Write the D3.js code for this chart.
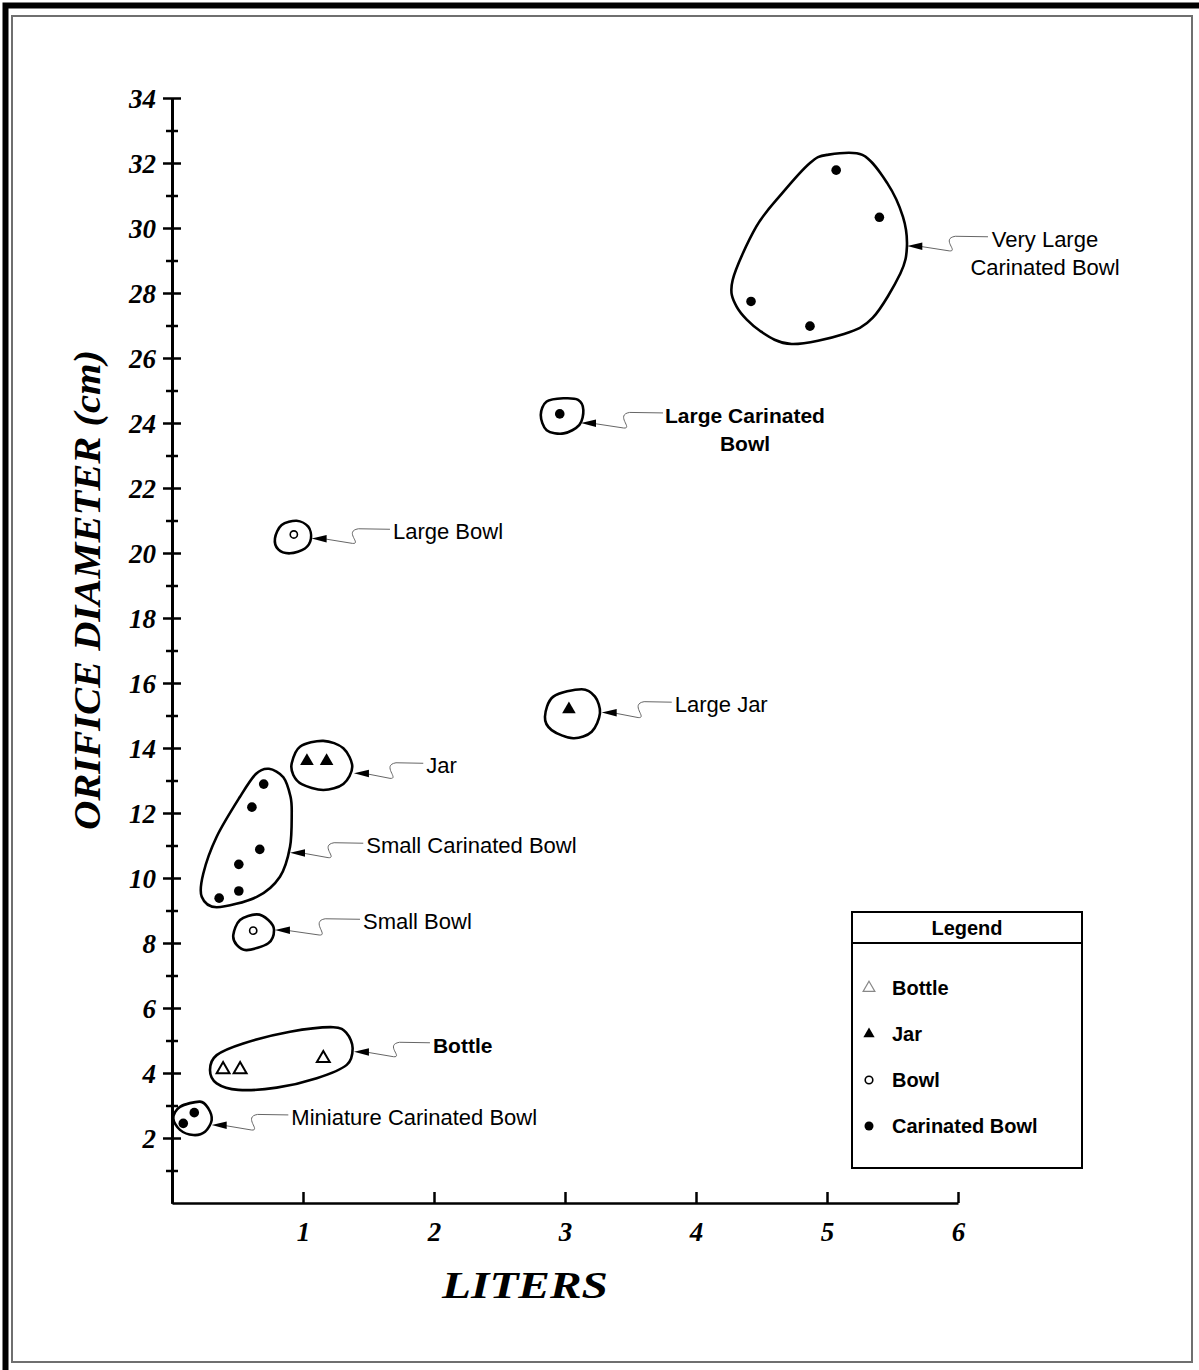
<!DOCTYPE html>
<html>
<head>
<meta charset="utf-8">
<script src="https://cdn.jsdelivr.net/npm/d3@7"></script>
<style>
  body { margin: 0; background: #fff; }
  svg { display: block; }
</style>
</head>
<body>
<svg id="chart" width="1199" height="1370"></svg>
<script>
// values (liters, orifice diameter cm)
const bottleL = [0.39, 0.52, 1.155];
const bottleD = [4.11, 4.11, 4.45];
const jarL = [1.03, 1.18, 3.03];
const jarD = [13.6, 13.6, 15.19];
const bowlL = [0.62, 0.93];
const bowlD = [8.38, 20.57];
const carL = [0.086, 0.17, 0.36, 0.51, 0.51, 0.67, 0.61, 0.70, 2.96, 4.42, 4.87, 5.07, 5.40];
const carD = [2.45, 2.78, 9.38, 9.6, 10.42, 10.88, 12.18, 12.89, 24.28, 27.74, 26.98, 31.78, 30.33];

const xTicks = [1, 2, 3, 4, 5, 6];
const yMajor = d3.range(2, 35, 2);
const yMinor = d3.range(1, 34, 2);

const legendNames = ["Bottle", "Jar", "Bowl", "Carinated Bowl"];

// hand drawn group outlines, in data units
const groups = [
  {name: "veryLarge", pts: [[5.00,32.25],[5.27,32.25],[5.46,31.38],[5.58,30.34],[5.61,29.42],[5.56,28.6],[5.35,27.24],[5.13,26.74],[4.73,26.43],[4.49,26.83],[4.31,27.58],[4.28,28.4],[4.46,30.04],[4.66,31.08],[4.87,32.0]]},
  {name: "largeCar", pts: [[2.815,24.25],[2.86,24.66],[2.99,24.76],[3.10,24.71],[3.14,24.40],[3.11,23.94],[2.99,23.68],[2.86,23.78]]},
  {name: "largeBowl", pts: [[0.786,20.45],[0.837,20.86],[0.952,20.99],[1.040,20.81],[1.061,20.45],[1.015,20.14],[0.901,19.99],[0.811,20.11]]},
  {name: "largeJar", pts: [[2.847,14.96],[2.911,15.58],[3.127,15.81],[3.229,15.58],[3.267,15.07],[3.204,14.50],[3.063,14.30],[2.898,14.55]]},
  {name: "jar", pts: [[0.914,13.53],[0.977,14.04],[1.155,14.22],[1.308,13.99],[1.376,13.42],[1.308,12.89],[1.155,12.71],[0.990,12.89],[0.926,13.17]]},
  {name: "smallCar", pts: [[0.74,13.36],[0.85,13.1],[0.905,12.5],[0.914,11.99],[0.901,10.96],[0.824,10.04],[0.647,9.42],[0.341,9.10],[0.227,9.42],[0.239,10.14],[0.341,11.27],[0.519,12.50],[0.64,13.2]]},
  {name: "smallBowl", pts: [[0.468,8.25],[0.519,8.71],[0.647,8.88],[0.735,8.71],[0.779,8.40],[0.735,7.99],[0.570,7.78],[0.494,7.94]]},
  {name: "bottle", pts: [[0.290,4.09],[0.341,4.55],[0.544,4.91],[0.901,5.27],[1.231,5.41],[1.334,5.22],[1.379,4.76],[1.334,4.25],[1.105,3.84],[0.799,3.55],[0.506,3.48],[0.341,3.68]]},
  {name: "mini", pts: [[0.010,2.61],[0.061,2.96],[0.214,3.12],[0.277,2.91],[0.303,2.55],[0.252,2.19],[0.163,2.09],[0.061,2.25]]}
];

// leader callouts: tip on the outline, end of the leader, label lines
const notes = [
  {lines: ["Very Large", "Carinated Bowl"], tip: [5.613, 29.45], end: [6.229, 29.73], bold: false, center: 6.664},
  {lines: ["Large Carinated", "Bowl"], tip: [3.122, 24.0], end: [3.748, 24.31], bold: true, center: 4.374},
  {lines: ["Large Bowl"], tip: [1.066, 20.45], end: [1.664, 20.73], bold: false},
  {lines: ["Large Jar"], tip: [3.280, 15.09], end: [3.815, 15.41], bold: false},
  {lines: ["Jar"], tip: [1.389, 13.22], end: [1.918, 13.53], bold: false},
  {lines: ["Small Carinated Bowl"], tip: [0.901, 10.78], end: [1.460, 11.07], bold: false},
  {lines: ["Small Bowl"], tip: [0.786, 8.40], end: [1.435, 8.73], bold: false},
  {lines: ["Bottle"], tip: [1.389, 4.655], end: [1.969, 4.93], bold: true},
  {lines: ["Miniature Carinated Bowl"], tip: [0.303, 2.40], end: [0.888, 2.71], bold: false}
];

const svg = d3.select("#chart");
const serif = "'Liberation Serif', 'DejaVu Serif', serif";
const sans = "'Liberation Sans', Arial, sans-serif";

// frame
svg.append("path")
  .attr("d", "M5.5,1370 L5.5,5.5 L1199,5.5")
  .attr("fill", "none")
  .attr("stroke", "#000")
  .attr("stroke-width", 6);
svg.append("rect")
  .attr("x", 12).attr("y", 16)
  .attr("width", 1180).attr("height", 1346)
  .attr("fill", "none")
  .attr("stroke", "#6f6f6f")
  .attr("stroke-width", 2);

const x = d3.scaleLinear().domain([0, 6]).range([172, 958]);
const y = d3.scaleLinear().domain([0, 34]).range([1203, 98]);

// y axis: major ticks cross the line, minor ones are shorter
const yAxisL = svg.append("g").attr("transform", `translate(${x(0)},0)`)
  .call(d3.axisLeft(y).tickValues(yMajor).tickSizeInner(9).tickSizeOuter(0).tickPadding(7));
const yAxisR = svg.append("g").attr("transform", `translate(${x(0)},0)`)
  .call(d3.axisRight(y).tickValues(yMajor).tickSizeInner(9).tickSizeOuter(0).tickFormat(""));
const yMinL = svg.append("g").attr("transform", `translate(${x(0)},0)`)
  .call(d3.axisLeft(y).tickValues(yMinor).tickSizeInner(6).tickSizeOuter(0).tickFormat(""));
const yMinR = svg.append("g").attr("transform", `translate(${x(0)},0)`)
  .call(d3.axisRight(y).tickValues(yMinor).tickSizeInner(6).tickSizeOuter(0).tickFormat(""));

const xAxis = svg.append("g").attr("transform", `translate(0,${y(0)})`)
  .call(d3.axisBottom(x).tickValues(xTicks).tickFormat(d3.format("d"))
    .tickSizeInner(-11).tickSizeOuter(0).tickPadding(19));

[yAxisL, yAxisR, yMinL, yMinR, xAxis].forEach(g => {
  g.selectAll("path.domain").attr("stroke", "#000").attr("stroke-width", 2.5);
  g.selectAll(".tick line").attr("stroke", "#000").attr("stroke-width", 2.5);
  g.selectAll(".tick text")
    .attr("fill", "#000")
    .style("font-family", serif)
    .style("font-weight", "bold")
    .style("font-style", "italic")
    .style("font-size", "27px");
});
yAxisL.selectAll(".tick text").attr("dy", "0.36em");

// axis titles
svg.append("text")
  .attr("x", 525).attr("y", 1298)
  .attr("text-anchor", "middle")
  .attr("textLength", 166).attr("lengthAdjust", "spacingAndGlyphs")
  .style("font-family", serif).style("font-weight", "bold").style("font-style", "italic")
  .style("font-size", "38px")
  .text("LITERS");
svg.append("text")
  .attr("transform", "translate(100,590) rotate(-90)")
  .attr("text-anchor", "middle")
  .attr("textLength", 480).attr("lengthAdjust", "spacingAndGlyphs")
  .style("font-family", serif).style("font-weight", "bold").style("font-style", "italic")
  .style("font-size", "38px")
  .text("ORIFICE DIAMETER (cm)");

// outlines
const outline = d3.line()
  .x(d => x(d[0])).y(d => y(d[1]))
  .curve(d3.curveCardinalClosed.tension(0.05));
svg.append("g").selectAll("path")
  .data(groups)
  .enter()
  .append("path")
  .attr("class", d => d.name)
  .attr("d", d => outline(d.pts))
  .attr("fill", "none")
  .attr("stroke", "#000")
  .attr("stroke-width", 2.6);

// leaders and labels
const noteG = svg.append("g");
notes.forEach(n => {
  const tx = x(n.tip[0]), ty = y(n.tip[1]);
  const ex = x(n.end[0]), ey = y(n.end[1]);
  const L = ex - tx;
  const bx = tx + 0.52 * L, by = ty + 5;
  noteG.append("path")
    .attr("d", `M${tx + 13},${ty + 0.5} L${bx},${by} C${bx + 10},${by + 1} ${bx - 9},${ey + 2} ${bx + 6},${ey - 0.5} L${ex},${ey}`)
    .attr("fill", "none")
    .attr("stroke", "#666")
    .attr("stroke-width", 1);
  noteG.append("path")
    .attr("d", `M${tx},${ty} L${tx + 15},${ty - 3.5} L${tx + 15},${ty + 4} Z`)
    .attr("fill", "#000");
  const t = noteG.append("text")
    .attr("text-anchor", n.center ? "middle" : "start")
    .attr("fill", "#000")
    .style("font-family", sans)
    .style("font-weight", n.bold ? "bold" : "normal")
    .style("font-size", n.bold ? "21px" : "22px");
  n.lines.forEach((s, i) => {
    t.append("tspan")
      .attr("x", n.center ? x(n.center) : ex + 3)
      .attr("y", ey + 10 + i * 28)
      .text(s);
  });
});

// points
const tri = d3.symbol().type(d3.symbolTriangle);
const pts = svg.append("g");
pts.selectAll("path.bottle")
  .data(bottleL.map((v, i) => [v, bottleD[i]]))
  .enter().append("path")
  .attr("class", "bottle")
  .attr("transform", d => `translate(${x(d[0])},${y(d[1])})`)
  .attr("d", tri.size(72)())
  .attr("fill", "#fff").attr("stroke", "#000").attr("stroke-width", 2);
pts.selectAll("path.jar")
  .data(jarL.map((v, i) => [v, jarD[i]]))
  .enter().append("path")
  .attr("class", "jar")
  .attr("transform", d => `translate(${x(d[0])},${y(d[1])})`)
  .attr("d", tri.size(80)())
  .attr("fill", "#000");
pts.selectAll("circle.bowl")
  .data(bowlL.map((v, i) => [v, bowlD[i]]))
  .enter().append("circle")
  .attr("class", "bowl")
  .attr("cx", d => x(d[0])).attr("cy", d => y(d[1]))
  .attr("r", 3.6)
  .attr("fill", "#fff").attr("stroke", "#000").attr("stroke-width", 1.6);
pts.selectAll("circle.car")
  .data(carL.map((v, i) => [v, carD[i]]))
  .enter().append("circle")
  .attr("class", "car")
  .attr("cx", d => x(d[0])).attr("cy", d => y(d[1]))
  .attr("r", 4.8)
  .attr("fill", "#000");

// legend
const lg = svg.append("g").attr("transform", "translate(852,912)");
lg.append("rect")
  .attr("width", 230).attr("height", 256)
  .attr("fill", "#fff").attr("stroke", "#000").attr("stroke-width", 2);
lg.append("line")
  .attr("x1", 0).attr("x2", 230).attr("y1", 31).attr("y2", 31)
  .attr("stroke", "#000").attr("stroke-width", 2);
lg.append("text")
  .attr("x", 115).attr("y", 23)
  .attr("text-anchor", "middle")
  .style("font-family", sans).style("font-weight", "bold").style("font-size", "20px")
  .text("Legend");
const item = lg.selectAll("g.item")
  .data(legendNames)
  .enter().append("g")
  .attr("class", "item")
  .attr("transform", (d, i) => `translate(0,${76 + i * 46})`);
item.append("text")
  .attr("x", 40).attr("y", 7)
  .style("font-family", sans).style("font-weight", "bold").style("font-size", "20px")
  .text(d => d);
item.each(function(d, i) {
  const g = d3.select(this);
  if (i === 0) {
    g.append("path").attr("transform", "translate(17,0)")
      .attr("d", tri.size(60)())
      .attr("fill", "none").attr("stroke", "#888").attr("stroke-width", 1.2);
  } else if (i === 1) {
    g.append("path").attr("transform", "translate(17,0)")
      .attr("d", tri.size(55)())
      .attr("fill", "#000");
  } else if (i === 2) {
    g.append("circle").attr("cx", 17).attr("cy", 0).attr("r", 3.8)
      .attr("fill", "#fff").attr("stroke", "#000").attr("stroke-width", 1.6);
  } else {
    g.append("circle").attr("cx", 17).attr("cy", 0).attr("r", 4.5)
      .attr("fill", "#000");
  }
});
</script>
</body>
</html>
